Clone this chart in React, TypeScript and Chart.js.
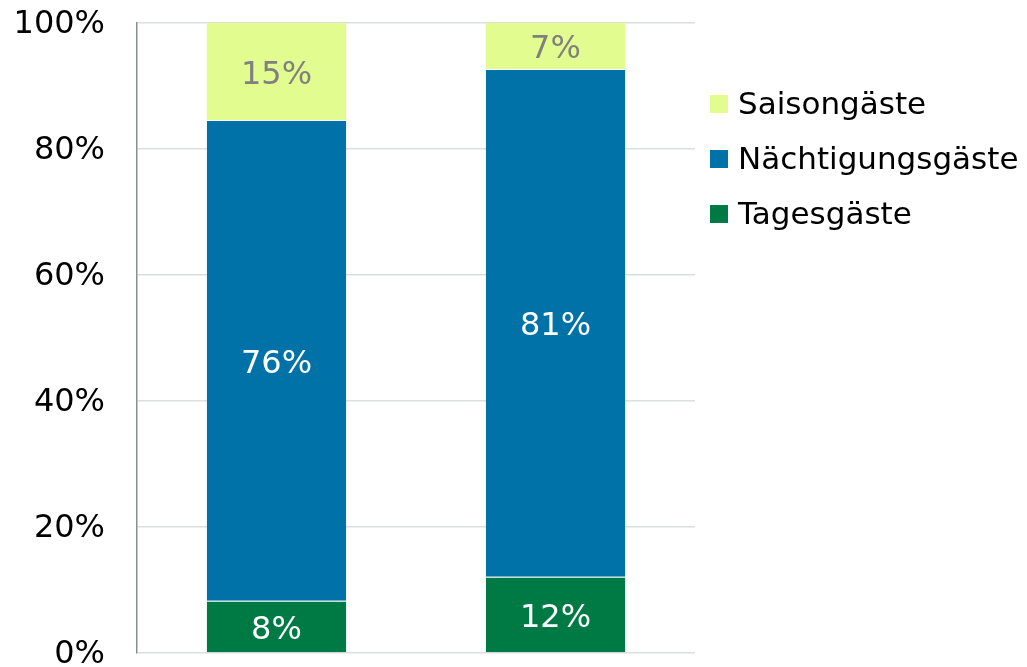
import React, { useEffect, useRef } from "react";
import { Chart, registerables } from "chart.js";

Chart.register(...registerables);

const categories = ["A", "B"];
const tagesgaeste = [8.3, 12.1];
const naechtigungsgaeste = [76.3, 80.6];
const saisongaeste = [15.4, 7.3];
const yTicks = [0, 20, 40, 60, 80, 100];

const FONT = "DejaVu Sans";
const FS_LEGEND = 31;
const FS_TICK = 32;
const FS_LABEL = 32;

const labelPlugin = {
  id: "segLabels",
  afterDatasetsDraw(chart: any) {
    const ctx = chart.ctx;
    ctx.save();
    ctx.font = `${FS_LABEL}px "${FONT}"`;
    ctx.textAlign = "center";
    ctx.textBaseline = "middle";
    chart.data.datasets.forEach((ds: any, di: number) => {
      const meta = chart.getDatasetMeta(di);
      meta.data.forEach((el: any, i: number) => {
        const v = ds.data[i];
        const y = (el.y + el.base) / 2;
        ctx.fillStyle = ds.labelColor;
        ctx.fillText(Math.round(v) + "%", el.x, y + 4);
      });
    });
    ctx.restore();
  },
};

const legendPlugin = {
  id: "customLegend",
  afterDraw(chart: any) {
    const ctx = chart.ctx;
    const area = chart.chartArea;
    ctx.save();
    ctx.font = `${FS_LEGEND}px "${FONT}"`;
    ctx.textAlign = "left";
    ctx.textBaseline = "middle";
    const items = [...chart.data.datasets].reverse();
    items.forEach((ds: any, i: number) => {
      const cy = area.top + 81 + i * 55;
      const bx = area.right + 15;
      ctx.fillStyle = ds.backgroundColor;
      ctx.fillRect(bx, cy - 9, 18, 18);
      ctx.fillStyle = "#000000";
      ctx.fillText(ds.label, bx + 28, cy + 2);
    });
    ctx.restore();
  },
};

export default function App() {
  const ref = useRef<HTMLCanvasElement>(null);
  useEffect(() => {
    Chart.defaults.font.family = FONT;
    const chart = new Chart(ref.current!, {
      type: "bar",
      data: {
        labels: categories,
        datasets: [
          {
            label: "Tagesgäste",
            data: tagesgaeste,
            backgroundColor: "#007a45",
            labelColor: "#ffffff",
            borderColor: "rgba(255,255,255,0.35)",
            borderWidth: { top: 1, bottom: 0, left: 0, right: 0 },
            borderSkipped: false,
          } as any,
          {
            label: "Nächtigungsgäste",
            data: naechtigungsgaeste,
            backgroundColor: "#0072a8",
            labelColor: "#ffffff",
            borderColor: "rgba(255,255,255,0.35)",
            borderWidth: { top: 1, bottom: 0, left: 0, right: 0 },
            borderSkipped: false,
          } as any,
          {
            label: "Saisongäste",
            data: saisongaeste,
            backgroundColor: "#e3fc8f",
            labelColor: "#808080",
            borderWidth: 0,
          } as any,
        ],
      },
      options: {
        responsive: false,
        animation: false,
        layout: { padding: { left: 0, right: 332, top: 23, bottom: 14 } },
        plugins: { legend: { display: false }, tooltip: { enabled: false } },
        datasets: { bar: { barPercentage: 0.5, categoryPercentage: 1 } },
        scales: {
          x: { stacked: true, display: false },
          y: {
            stacked: true,
            min: 0,
            max: 100,
            afterBuildTicks: (s: any) => {
              s.ticks = yTicks.map((v) => ({ value: v }));
            },
            afterFit: (s: any) => {
              s.width = 137;
              s.paddingTop = 0;
              s.paddingBottom = 0;
            },
            ticks: {
              padding: 32,
              labelOffset: 2,
              color: "#000000",
              font: { size: FS_TICK, family: FONT },
              callback: (v: any) => v + "%",
            },
            grid: { color: "#dcdfdf", lineWidth: 1.5, drawTicks: false },
            border: { color: "#8a9090", width: 1.5 },
          },
        },
      },
      plugins: [labelPlugin, legendPlugin],
    });
    return () => chart.destroy();
  }, []);
  return (
    <div style={{ position: "fixed", left: 0, top: 0, width: 1027, height: 667, background: "#fff" }}>
      <canvas ref={ref} width={1027} height={667} style={{ display: "block" }} />
    </div>
  );
}
